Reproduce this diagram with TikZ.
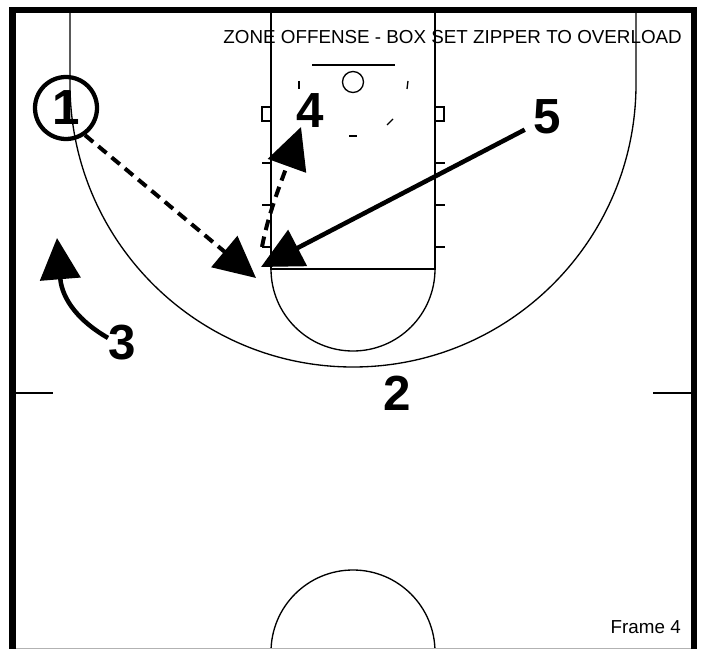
\documentclass[tikz,border=0pt]{standalone}
\usepackage{fontspec}
\setmainfont{Liberation Sans}
\usetikzlibrary{arrows.meta, calc}

\begin{document}
\begin{tikzpicture}[
  x=0.75pt, y=-0.75pt,
  court/.style  ={draw=black, line width=1pt},
  player/.style ={font=\fontsize{37}{37}\selectfont\bfseries, inner sep=0pt},
  ballman/.style={player, circle, draw, line width=3.2pt, minimum size=46.5pt},
  caption/.style={font=\fontsize{14.1}{17}\selectfont, inner sep=0pt},
  cut/.style    ={-{Triangle[length=31pt, width=30pt]}, line width=3.4pt},
  pass/.style   ={cut, line width=3pt, dash pattern=on 8pt off 5pt},
]
\useasboundingbox (0,0) rectangle (703,649);

% ----- Court lines -----
\draw[court] (70,13) -- (70,84) arc[start angle=180, end angle=360, radius=283, y radius=-283] -- (636,13);
\draw[court] (271,13) -- (271,269) -- (435,269) -- (435,13);
\draw[court] (271,269) arc[start angle=180, end angle=360, radius=82, y radius=-82];
\draw[court] (271,649) -- (271,652) arc[start angle=180, end angle=0, radius=82, y radius=-82] -- (435,649);
\draw[court] (16,393) -- (53,393);
\draw[court] (653,393) -- (691,393);

% ----- Basket and lane marks -----
\draw[court] (312,65) -- (395,65);
\draw[court] (353,82) circle[radius=10.5];
\draw[court] (299,81) -- (299,89);
\draw[court] (408,81) -- (407,89);
\draw[court] (393,119) -- (387,125);
\draw[court] (349,136) -- (357,136);
\draw[court] (262,107) rectangle (271,121);
\draw[court] (435,107) rectangle (444,121);
\foreach \y in {163,205,247} {
  \draw[court] (262,\y) -- (271,\y);
  \draw[court] (435,\y) -- (445,\y);
}

% ----- Frame -----
\draw[line width=5pt] (12.5,649) -- (12.5,10) -- (694,10) -- (694,649);
\draw[gray!60, line width=0.8pt] (16,648.5) -- (691,648.5);

% ----- Players -----
\node[ballman] (one) at (66,108) {1};
\node[player] (two) at (397,393) {2};
\node[player] (three) at (122,343) {3};
\node[player] (four) at (310,111) {4};
\node[player] (five) at (547,117) {5};

% ----- Movement -----
\coordinate (rimSide) at (261,267);
\coordinate (passEnd) at (256,278);
\coordinate (screenStart) at (262,247);
\coordinate (fourEnd) at (301,127);
\coordinate (threeEnd) at (57,238);

\draw[pass] (one.-55) -- (passEnd);
\draw[pass] (screenStart) .. controls (268,215) and (280,185) .. (fourEnd);
\draw[cut, shorten <=7pt]  (five.211) -- (rimSide);
\draw[cut]  (three.160) .. controls (80,322) and (62,300) .. (threeEnd);

% ----- Captions -----
\node[caption, anchor=east] (title) at (682,37) {ZONE OFFENSE - BOX SET ZIPPER TO OVERLOAD};
\node[caption, anchor=east] (frame) at (681,627) {Frame 4};
\end{tikzpicture}
\end{document}
